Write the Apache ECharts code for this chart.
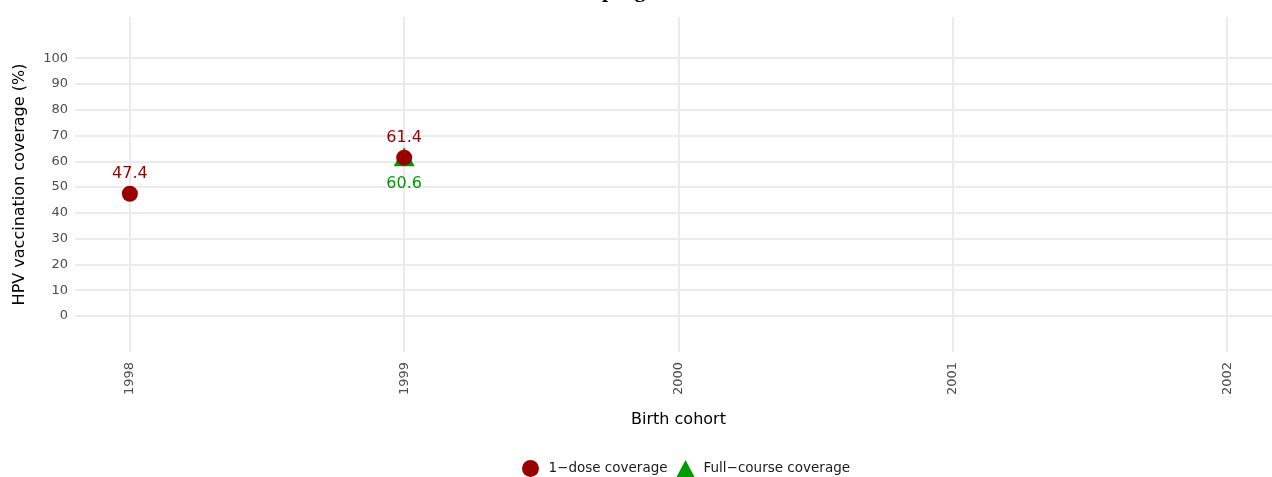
<!DOCTYPE html>
<html>
<head>
<meta charset="utf-8">
<script src="https://cdn.jsdelivr.net/npm/echarts@6/dist/echarts.min.js"></script>
<style>
  html, body { margin: 0; padding: 0; background: #ffffff; }
  #chart { width: 1272px; height: 477px; }
</style>
</head>
<body>
<div id="chart"></div>
<script>
// Birth cohorts shown on the x axis
const cohorts = [1998, 1999, 2000, 2001, 2002];
// Coverage (%) per cohort; null where no value is reported
const oneDose = [47.4, 61.4, null, null, null];
const fullCourse = [null, 60.6, null, null, null];
// Y axis tick values
const yTicks = [0, 10, 20, 30, 40, 50, 60, 70, 80, 90, 100];

const RED = '#990000';
const GREEN = '#009900';
const FONT = 'DejaVu Sans';

function pairs(values) {
  return cohorts.map((c, i) => [c, values[i]]).filter(p => p[1] !== null);
}

const chart = echarts.init(document.getElementById('chart'), null, { renderer: 'canvas' });

chart.setOption({
  animation: false,
  backgroundColor: '#ffffff',
  title: {
    text: 'HPV vaccination program',
    left: 432,
    top: -25,
    textStyle: { fontFamily: 'Liberation Serif', fontWeight: 'bold', fontSize: 22, color: '#000000' }
  },
  grid: {
    left: 75, top: 17, width: 1207, height: 335,
    containLabel: false,
    outerBoundsMode: 'none'
  },
  legend: {
    left: 517,
    top: 455,
    itemGap: 9,
    itemWidth: 18,
    itemHeight: 17,
    textStyle: { fontFamily: FONT, fontSize: 13.5, color: '#1a1a1a', padding: [0, 0, 0, 4] },
    data: [
      { name: '1\u2212dose coverage', icon: 'circle', itemStyle: { color: RED, opacity: 1 } },
      { name: 'Full\u2212course coverage', icon: 'triangle', itemStyle: { color: GREEN, opacity: 1 } }
    ]
  },
  xAxis: {
    type: 'value',
    min: 1997.8,
    max: 2002.2,
    name: 'Birth cohort',
    nameLocation: 'middle',
    nameGap: 60,
    nameTextStyle: { fontFamily: FONT, fontSize: 16, color: '#000000' },
    axisLine: { show: false },
    axisTick: { show: false, customValues: cohorts },
    axisLabel: {
      customValues: cohorts,
      rotate: 90,
      margin: 10,
      fontFamily: FONT,
      fontSize: 13,
      color: '#4d4d4d',
      formatter: v => String(v)
    },
    splitLine: { show: true, lineStyle: { color: '#ebebeb', width: 2 } }
  },
  yAxis: {
    type: 'value',
    min: -14,
    max: 116,
    name: 'HPV vaccination coverage (%)',
    nameLocation: 'middle',
    nameGap: 47,
    nameTextStyle: { fontFamily: FONT, fontSize: 16, color: '#000000' },
    axisLine: { show: false },
    axisTick: { show: false, customValues: yTicks },
    axisLabel: {
      customValues: yTicks,
      margin: 7,
      fontFamily: FONT,
      fontSize: 13,
      color: '#4d4d4d'
    },
    splitLine: { show: true, lineStyle: { color: '#ebebeb', width: 2 } }
  },
  series: [
    {
      name: 'Full\u2212course coverage',
      type: 'scatter',
      symbol: 'triangle',
      symbolSize: [21, 19],
      symbolOffset: [0, -3],
      itemStyle: { color: GREEN, opacity: 1 },
      emphasis: { disabled: true },
      data: pairs(fullCourse),
      label: {
        show: true,
        position: 'bottom',
        distance: 10,
        fontFamily: FONT,
        fontSize: 16,
        color: GREEN,
        formatter: p => p.value[1].toFixed(1)
      },
      z: 2
    },
    {
      name: '1\u2212dose coverage',
      type: 'scatter',
      symbol: 'circle',
      symbolSize: 16,
      itemStyle: { color: RED, opacity: 1 },
      emphasis: { disabled: true },
      data: pairs(oneDose),
      label: {
        show: true,
        position: 'top',
        distance: 4,
        fontFamily: FONT,
        fontSize: 16,
        color: RED,
        formatter: p => p.value[1].toFixed(1)
      },
      z: 3
    }
  ]
});
</script>
</body>
</html>
